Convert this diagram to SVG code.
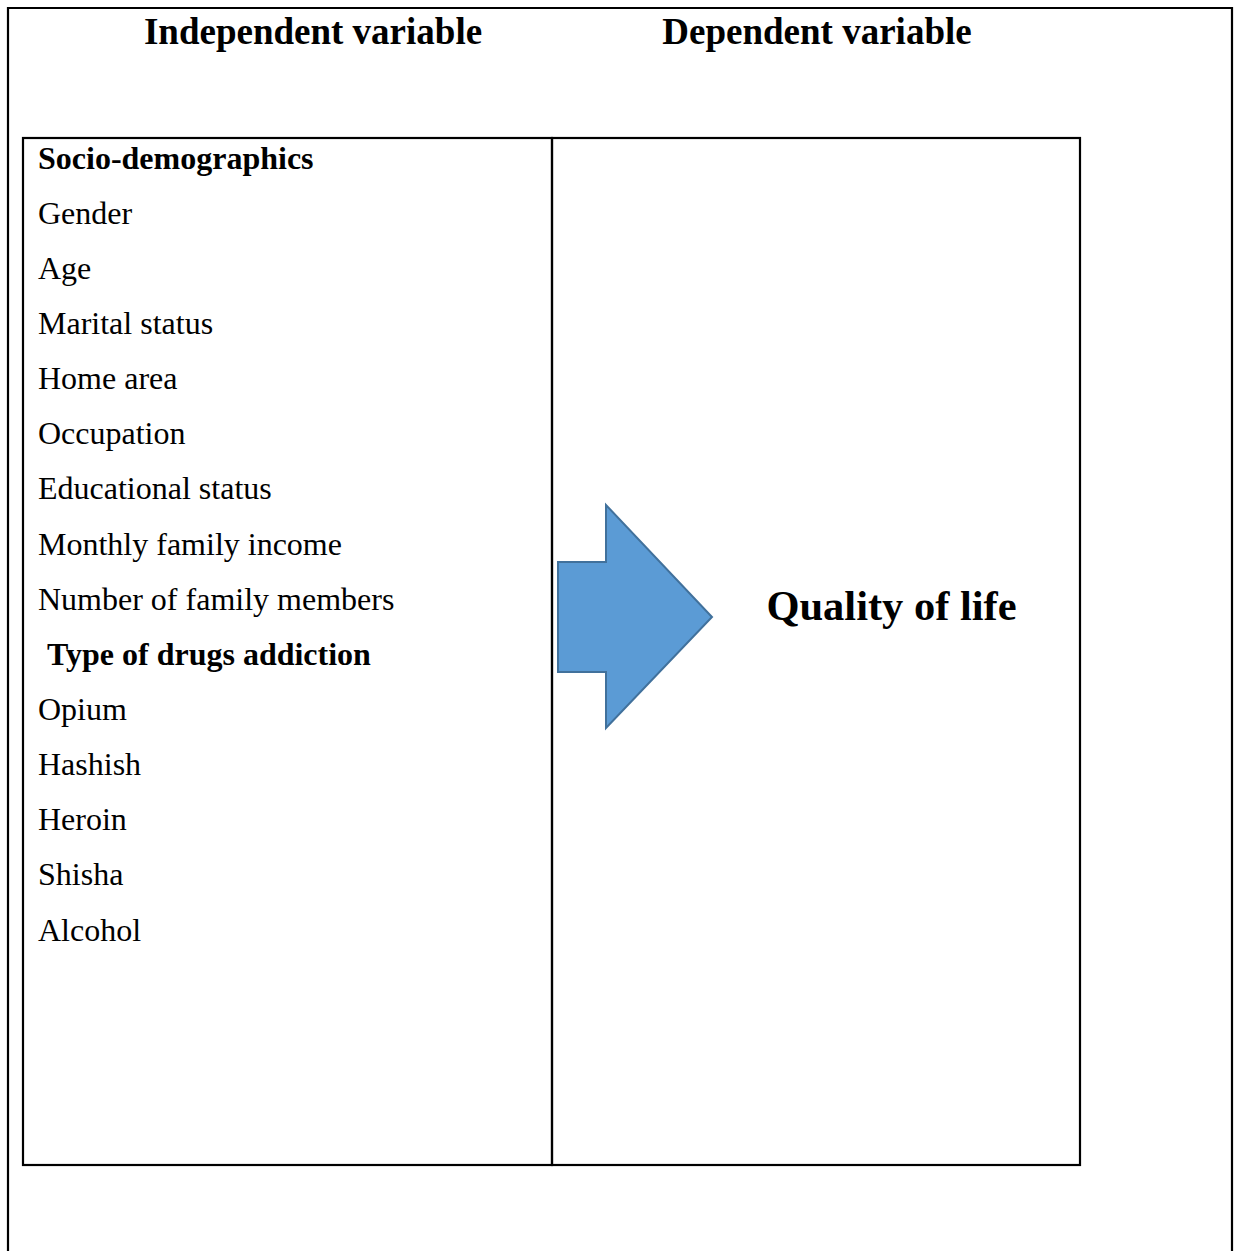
<svg xmlns="http://www.w3.org/2000/svg" width="1234" height="1251" viewBox="0 0 1234 1251">
<style>
.ln{fill:none;stroke:#000;stroke-width:2.2}
.t{font-family:"Liberation Serif","Times New Roman",serif;font-size:32px;fill:#000}
.b{font-weight:bold}
.h{font-family:"Liberation Serif","Times New Roman",serif;font-size:37px;font-weight:bold;fill:#000;text-anchor:middle}
.q{font-family:"Liberation Serif","Times New Roman",serif;font-size:42.5px;font-weight:bold;fill:#000;text-anchor:middle}
</style>
<rect width="1234" height="1251" fill="#fff"/>
<g id="frame">
<path class="ln" d="M8,1251 V8 H1232 V1251"/>
</g>
<g id="headers">
<text class="h" x="313" y="44">Independent variable</text>
<text class="h" x="817" y="44">Dependent variable</text>
</g>
<g id="independent">
<rect class="ln" x="23" y="138" width="529" height="1027"/>
<text class="t b" x="38" y="168.5">Socio-demographics</text>
<text class="t" x="38" y="223.6">Gender</text>
<text class="t" x="38" y="278.8">Age</text>
<text class="t" x="38" y="333.9">Marital status</text>
<text class="t" x="38" y="389.1">Home area</text>
<text class="t" x="38" y="444.2">Occupation</text>
<text class="t" x="38" y="499.3">Educational status</text>
<text class="t" x="38" y="554.5">Monthly family income</text>
<text class="t" x="38" y="609.6">Number of family members</text>
<text class="t b" x="47" y="664.8">Type of drugs addiction</text>
<text class="t" x="38" y="719.9">Opium</text>
<text class="t" x="38" y="775">Hashish</text>
<text class="t" x="38" y="830.2">Heroin</text>
<text class="t" x="38" y="885.3">Shisha</text>
<text class="t" x="38" y="940.5">Alcohol</text>
</g>
<g id="dependent">
<rect class="ln" x="552" y="138" width="528" height="1027"/>
<text class="q" x="891.5" y="620">Quality of life</text>
</g>
<g id="connectors">
<polygon points="558,562 606,562 606,505 712,617 606,728 606,672 558,672" fill="#5B9BD5" stroke="#41719C" stroke-width="2"/>
</g>
</svg>
